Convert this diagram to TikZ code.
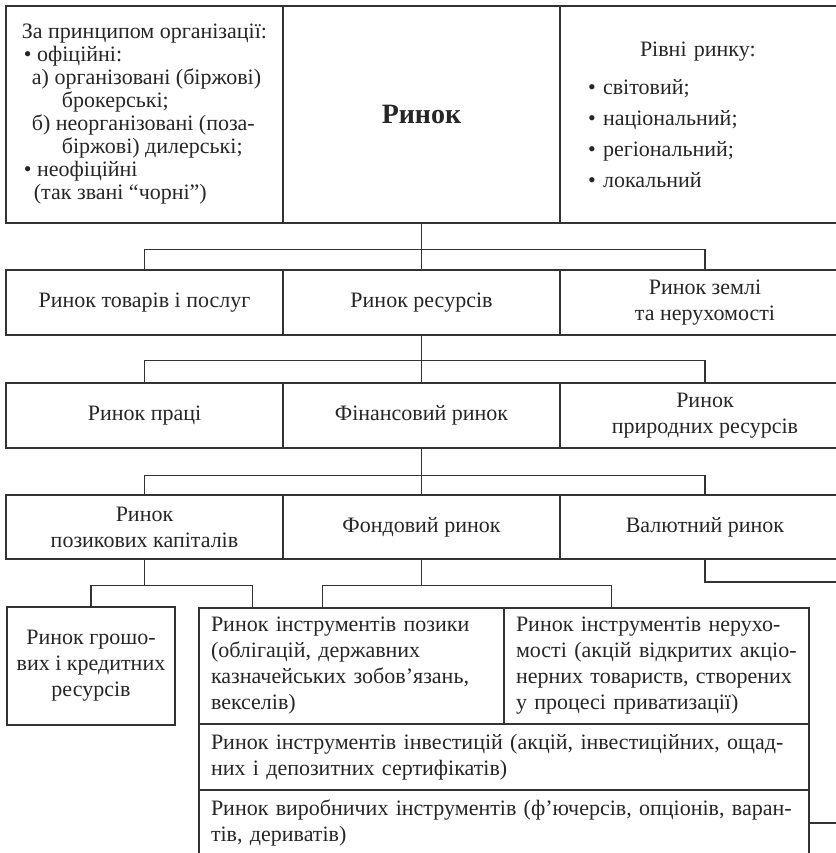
\documentclass[tikz,border=0pt]{standalone}
\usepackage{fontspec}
\setmainfont{Liberation Serif}
\newcommand\jline[1]{\hbox to\linewidth{#1}\par}

\tikzset{
  cell/.style={draw=black!80, line width=0.6pt, text=black!85, inner sep=0pt,
    font=\fontsize{11pt}{13pt}\selectfont},
  lcell/.style={cell, minimum width=138.5pt},
  rcell/.style={cell, minimum width=145pt},
  link/.style={draw=black!80, line width=0.6pt},
}

\begin{document}
\begin{tikzpicture}[x=0.5pt,y=-0.5pt]
        \useasboundingbox (0,0) rectangle (836,853);
        \clip (0,0) rectangle (836,853);
        % top row
        \node[lcell, minimum height=108.5pt, align=left, font=\fontsize{11pt}{11.5pt}\selectfont] (org) at (144.5,114.5)
          {За принципом організації:\\
           \hspace*{1pt}• офіційні:\\
           \hspace*{5pt}а) організовані (біржові)\\
           \hspace*{20pt}брокерські;\\
           \hspace*{5pt}б) неорганізовані (поза-\\
           \hspace*{20pt}біржові) дилерські;\\
           \hspace*{1pt}• неофіційні\\
           \hspace*{6pt}(так звані “чорні”)};
        \node[lcell, minimum height=108.5pt, font=\fontsize{14pt}{16pt}\selectfont\bfseries] (market) at (421.5,114.5) {Ринок};
        \node[rcell, minimum height=108.5pt, text width=117pt, align=left, font=\fontsize{11pt}{15.5pt}\selectfont] (levels) at (705,114.5)
          {\hspace*{26pt}Рівні ринку:\\[3.5pt]
           • світовий;\\
           • національний;\\
           • регіональний;\\
           • локальний};
        % second row
        \node[lcell, minimum height=32.5pt] (goods) at (144.5,302.5) {Ринок товарів і послуг};
        \node[lcell, minimum height=32.5pt] (res) at (421.5,302.5) {Ринок ресурсів};
        \node[rcell, minimum height=32.5pt, align=center] (land) at (705,302.5) {Ринок землі\\та нерухомості};
        % third row
        \node[lcell, minimum height=32.5pt] (labour) at (144.5,415.5) {Ринок праці};
        \node[lcell, minimum height=32.5pt] (fin) at (421.5,415.5) {Фінансовий ринок};
        \node[rcell, minimum height=32.5pt, align=center] (nature) at (705,415.5) {Ринок\\природних ресурсів};
        % fourth row
        \node[lcell, minimum height=32pt, align=center] (loan) at (144.5,527) {Ринок\\позикових капіталів};
        \node[lcell, minimum height=32pt] (stock) at (421.5,527) {Фондовий ринок};
        \node[rcell, minimum height=32pt] (curr) at (705,527) {Валютний ринок};
        % bottom part
        \node[cell, minimum width=84pt, minimum height=59pt, align=center] (money) at (91,666)
          {Ринок грошо-\\вих і кредитних\\ресурсів};
        \node[cell, minimum width=152.5pt, minimum height=58pt, text width=140.5pt, align=left] (bond) at (351.5,666)
          {Ринок інструментів позики\\(облігацій, державних\\казначейських зобов’язань,\\векселів)};
        \node[cell, minimum width=152.5pt, minimum height=58pt, text width=140.5pt, align=left] (realty) at (656.5,666)
          {\jline{Ринок інструментів нерухо-}\jline{мості (акцій відкритих акціо-}\jline{нерних товариств, створених}у процесі приватизації)};
        \node[cell, minimum width=305pt, minimum height=33pt, text width=293pt, align=left] (invest) at (504,757)
          {\jline{Ринок інструментів інвестицій (акцій, інвестиційних, ощад-}них і депозитних сертифікатів)};
        \node[cell, minimum width=305pt, minimum height=33pt, text width=293pt, align=left] (deriv) at (504,823)
          {\jline{Ринок виробничих інструментів (ф’ючерсів, опціонів, варан-}тів, дериватів)};
        \coordinate (curredge) at (850,582);
        \coordinate (derivedge) at (850,823);
        % connectors
        \draw[link] (market.south) -- (res.north);
        \draw[link] (market.south) -- ++(0,26) -| (goods.north);
        \draw[link] (market.south) -- ++(0,26) -| (land.north);
        \draw[link] (res.south) -- (fin.north);
        \draw[link] (res.south) -- ++(0,25) -| (labour.north);
        \draw[link] (res.south) -- ++(0,25) -| (nature.north);
        \draw[link] (fin.south) -- (stock.north);
        \draw[link] (fin.south) -- ++(0,27) -| (loan.north);
        \draw[link] (fin.south) -- ++(0,27) -| (curr.north);
        \draw[link] (loan.south) -- ++(0,26) -| (money.north);
        \draw[link] (loan.south) -- ++(0,26) -| ([xshift=27pt]bond.north west);
        \draw[link] (stock.south) -- ++(0,26) -| ([xshift=62pt]bond.north west);
        \draw[link] (stock.south) -- ++(0,26) -| ([xshift=54pt]realty.north west);
        \draw[link] (curr.south) |- (curredge);
        \draw[link] (deriv.east) -- (derivedge);
\end{tikzpicture}
\end{document}
